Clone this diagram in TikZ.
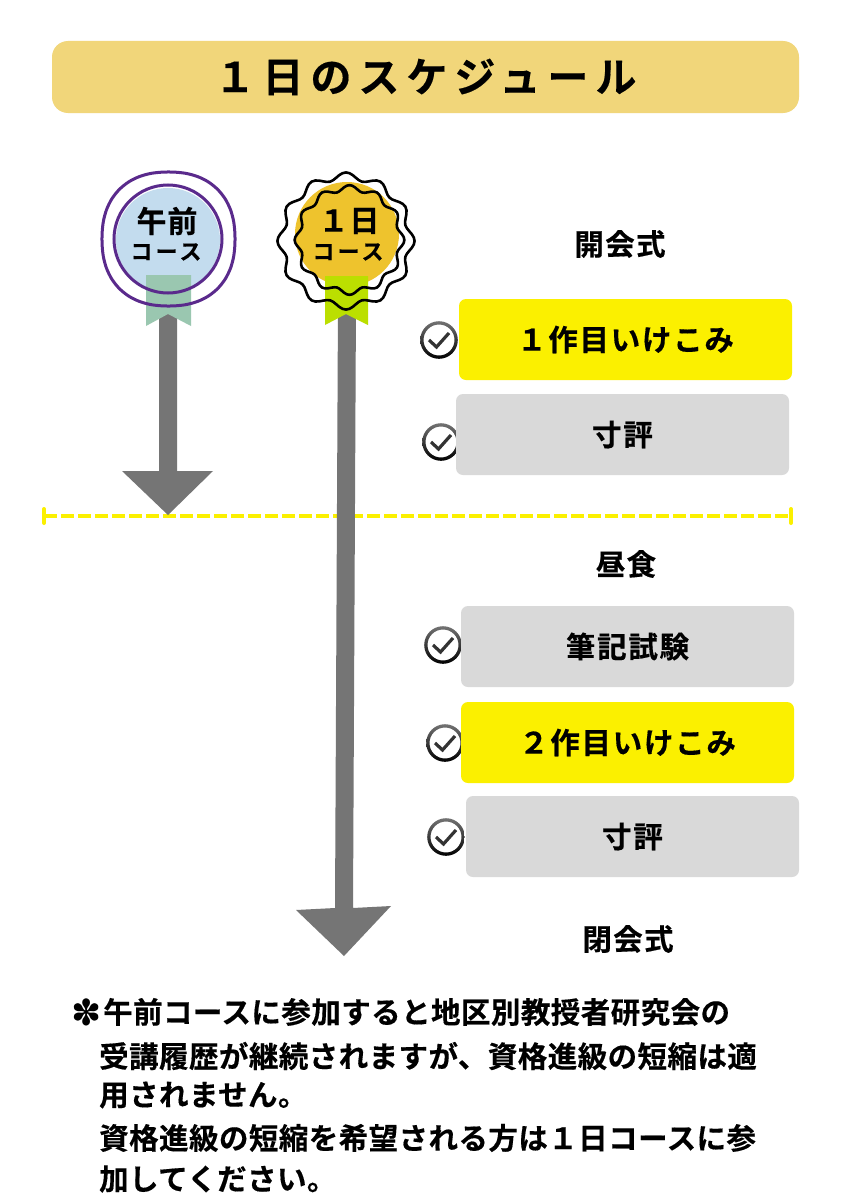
\documentclass[tikz,border=0pt]{standalone}
\usepackage{fontspec}
\setmainfont{Noto Sans CJK JP}[BoldFont=* Bold]
\newfontfamily\symfont{DejaVu Sans}
\usetikzlibrary{calc}
\definecolor{titlegold}{HTML}{F1D67A}
\definecolor{marker}{HTML}{FBF000}
\definecolor{panel}{HTML}{D9D9D9}
\definecolor{shaft}{HTML}{757575}
\definecolor{ringviolet}{HTML}{5A2A8C}
\definecolor{discblue}{HTML}{C3DCEE}
\definecolor{discgold}{HTML}{EEC32D}
\definecolor{ribbongreen}{HTML}{9AC7B0}
\definecolor{ribbonlime}{HTML}{BBDF00}
\newcommand{\jpfont}[2]{\fontsize{#1}{#1}\bfseries\addfontfeatures{LetterSpace=#2,FakeBold=0.4}}

\begin{document}
\begin{tikzpicture}[x=1pt, y=-1pt,
    stepbox/.style={rounded corners=7pt, minimum width=333pt, minimum height=81pt, inner sep=0pt, font=\jpfont{29.5}{5.8}},
    heading/.style={inner sep=0pt, font=\jpfont{29.5}{4.5}},
    badgehead/.style={inner sep=0pt, font=\jpfont{30}{3}},
    badgesub/.style={inner sep=0pt, font=\jpfont{22}{14}},
    noteline/.style={anchor=west, inner sep=0pt, font=\jpfont{29.5}{1.5}},
    checkicon/.pic={
        \path[top color=black!55, bottom color=black, even odd rule] (0,0) circle (18.8) (0,0) circle (15.5);
        \draw[black!80, line width=3.2pt] (-10,0) -- (-2.5,7) -- (10,-7);
    }]
    \useasboundingbox (0,0) rectangle (848,1199);
    \fill[white] (0,0) rectangle (848,1199);

    % Title
    \node[fill=titlegold, rounded corners=16pt, minimum width=747pt, minimum height=72pt, inner sep=0pt,
        font=\jpfont{41}{17}] (title) at (425.5,77) {１日のスケジュール};

    % Divider
    \draw[marker, line width=4.5pt, dash pattern=on 12.5pt off 4.5pt] (44,516) -- (791,516);
    \draw[marker, line width=4pt, line cap=round] (44,509) -- (44,523) (791,509) -- (791,523);

    % Half day course
    \fill[discblue] (168,240) circle (52);
    \fill[shaft] (159,300) -- (177,300) -- (177,471) -- (213,471) -- (168,515) -- (122,471) -- (159,471) -- cycle;
    \fill[ribbongreen] (146,275) -- (191,275) -- (191,326) -- (168,314) -- (146,326) -- cycle;
    \draw[ringviolet, line width=3pt] plot[smooth cycle, domain=5:355, samples=36]
        ({168.5+66.5*cos(\x)/(abs(cos(\x))^2.3+abs(sin(\x))^2.3)^(1/2.3)}, {239+67*sin(\x)/(abs(cos(\x))^2.3+abs(sin(\x))^2.3)^(1/2.3)});
    \draw[ringviolet, line width=3pt] (168,239) circle (54);
    \node[badgehead] (halfname) at (167,221) {午前};
    \node[badgesub] (halfsub) at (166,252) {コース};

    % Full day course
    \fill[discgold] (347,234) circle (52);
    \fill[shaft] (338,300) -- (356,300) -- (353,908) -- (391,906) -- (344,956) -- (296,910) -- (335,908) -- cycle;
    \fill[ribbonlime] (325,276) -- (368,276) -- (368,325) -- (346,314) -- (325,325) -- cycle;
    \draw[black, line width=2.6pt] plot[smooth cycle, domain=0:357, samples=120]
        ({346+65*(1+0.055*cos(12*(\x+90)))*cos(\x)}, {241+65*(1+0.055*cos(12*(\x+90)))*sin(\x)});
    \draw[black, line width=2.6pt] plot[smooth cycle, domain=0:357, samples=120]
        ({349.5+52*(1+0.055*cos(12*(\x+90)))*cos(\x)}, {240+52*(1+0.055*cos(12*(\x+90)))*sin(\x)});
    \node[badgehead] (fullname) at (349,221) {１日};
    \node[badgesub] (fullsub) at (348,252) {コース};

    % Check marks
    \pic at (439,340) {checkicon};
    \pic at (441,442) {checkicon};
    \pic at (443,645) {checkicon};
    \pic at (445,743) {checkicon};
    \pic at (446,837) {checkicon};

    % Schedule
    \node[heading] (opening) at (620,244) {開会式};
    \node[stepbox, fill=marker] (first) at (625.5,339.5) {１作目いけこみ};
    \node[stepbox, fill=panel] (critiquea) at (622.5,434.5) {寸評};
    \node[heading] (lunch) at (626,564) {昼食};
    \node[stepbox, fill=panel] (written) at (627.5,646.5) {筆記試験};
    \node[stepbox, fill=marker] (second) at (627.5,742.5) {２作目いけこみ};
    \node[stepbox, fill=panel] (critiqueb) at (632.5,836.5) {寸評};
    \node[heading] (closing) at (628,939) {閉会式};

    % Note
    \node[inner sep=0pt, font=\fontsize{36}{36}\symfont] (star) at (87,1012) {✽};
    \node[noteline] (notea) at (103,1012) {午前コースに参加すると地区別教授者研究会の};
    \node[noteline] (noteb) at (99,1056) {受講履歴が継続されますが、資格進級の短縮は適};
    \node[noteline] (notec) at (99,1095) {用されません。};
    \node[noteline] (noted) at (99,1138) {資格進級の短縮を希望される方は１日コースに参};
    \node[noteline] (notee) at (99,1179) {加してください。};
\end{tikzpicture}
\end{document}
